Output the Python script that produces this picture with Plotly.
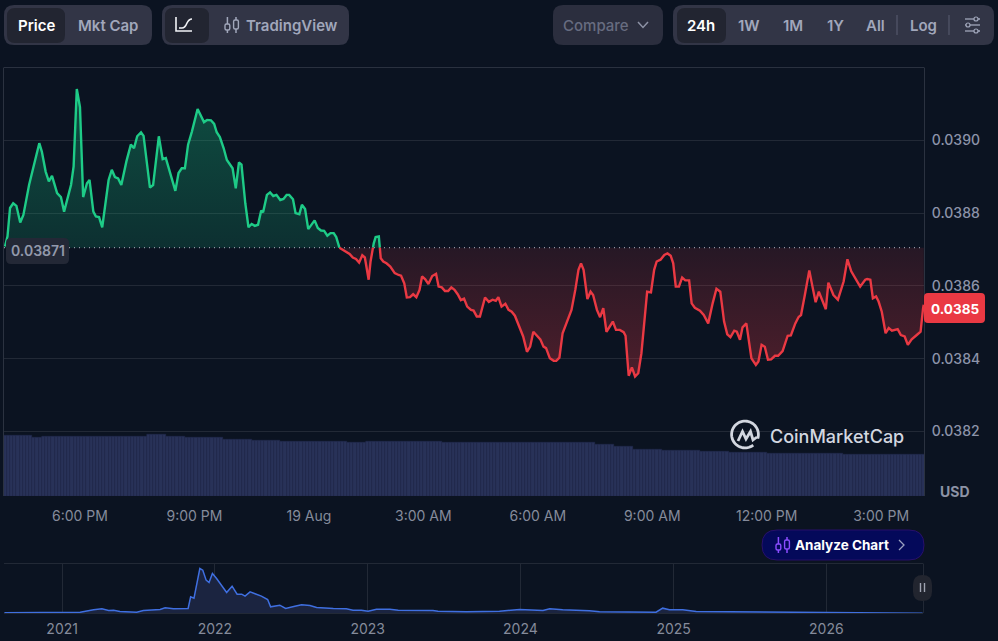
import numpy as np
import pandas as pd
import plotly.graph_objects as go

W, H = 998, 641
BG = "#0b1321"

# ---------- data ----------
minutes = [2,6,10,15,20,26,31,40,56,60,66,71,76,84,90,95,106,110,115,120,125,131,135,141,145,150,155,165,170,175,180,185,193,200,205,210,216,220,230,235,244,250,255,270,275,280,285,290,296,305,315,320,326,331,335,340,346,351,360,365,370,374,380,385,390,395,400,405,408,414,419,424,429,435,440,445,449,455,459,465,469,474,479,489,494,499,504,509,514,519,523,528,
537,544,549,554,559,564,568,574,577,582,585,590,593,597,602,608,615,621,625,630,634,639,644,649,654,658,663,668,674,680,684,689,694,699,704,709,714,719,724,729,735,739,744,749,757,763,769,774,778,783,789,794,799,804,809,817,823,828,833,838,844,849,853,859,865,869,874,879,886,893,899,904,908,912,918,923,927,933,938,943,948,958,963,969,975,978,983,988,993,998,1003,1009,
1012,1018,1023,1027,1033,1039,1044,1049,1053,1057,1062,1067,1072,1078,1082,1087,1095,1101,1108,1115,1121,1127,1133,1138,1143,1149,1153,1158,1162,1168,1176,1183,1187,1192,1197,1202,1207,1213,1218,1225,1233,1238,1245,1250,1254,1260,1267,1272,1277,1282,1293,1297,1305,1312,1321,1327,1333,1347,1355,1358,1363,1367,1372,1376,1381,1387,1392,1397,1406,1411,1417,1422,1428,1436,1442,1446,1447]
prices = [0.038708,0.038736,0.038814,0.038827,0.038820,0.038774,0.038795,0.038878,0.038992,0.038969,0.038914,0.038887,0.038902,0.038855,0.038844,0.038804,0.038878,0.038928,0.039141,0.039091,0.038844,0.038882,0.038891,0.038804,0.038791,0.038789,0.038761,0.038891,0.038919,0.038899,0.038895,0.038877,0.038942,0.038988,0.038978,0.039011,0.039022,0.039012,0.038870,0.038877,0.039011,0.038948,0.038951,0.038861,0.038910,0.038923,0.038923,0.038988,0.039024,0.039086,0.039050,0.039056,0.039055,0.039045,0.039022,0.039009,0.038978,0.038946,0.038923,0.038868,0.038939,0.038933,0.038827,0.038761,0.038770,0.038765,0.038768,0.038807,0.038802,0.038850,0.038857,0.038847,0.038850,0.038836,0.038839,0.038850,0.038850,0.038838,0.038800,0.038797,0.038823,0.038811,0.038756,0.038780,0.038759,0.038752,0.038751,0.038738,0.038745,0.038745,0.038734,0.038705,
0.038696,0.038688,0.038678,0.038674,0.038664,0.038684,0.038678,0.038617,0.038667,0.038717,0.038734,0.038736,0.038676,0.038667,0.038662,0.038653,0.038635,0.038630,0.038628,0.038607,0.038568,0.038569,0.038577,0.038569,0.038589,0.038626,0.038618,0.038605,0.038627,0.038633,0.038598,0.038596,0.038586,0.038586,0.038596,0.038589,0.038577,0.038561,0.038565,0.038543,0.038534,0.038532,0.038516,0.038516,0.038568,0.038556,0.038562,0.038559,0.038569,0.038543,0.038551,0.038534,0.038529,0.038518,0.038497,0.038461,0.038419,0.038433,0.038474,0.038465,0.038453,0.038433,0.038429,0.038401,0.038394,0.038394,0.038403,0.038470,0.038502,0.038534,0.038589,0.038644,0.038662,0.038644,0.038564,0.038584,0.038575,0.038534,0.038514,0.038539,0.038474,0.038502,0.038479,0.038479,0.038473,0.038463,0.038353,0.038376,0.038351,0.038360,0.038415,0.038525,
0.038584,0.038582,0.038644,0.038667,0.038672,0.038685,0.038689,0.038683,0.038662,0.038598,0.038598,0.038623,0.038615,0.038615,0.038552,0.038540,0.038532,0.038520,0.038497,0.038552,0.038592,0.038584,0.038502,0.038467,0.038459,0.038477,0.038474,0.038452,0.038486,0.038497,0.038401,0.038383,0.038392,0.038438,0.038433,0.038397,0.038398,0.038408,0.038408,0.038421,0.038463,0.038464,0.038497,0.038514,0.038520,0.038575,0.038642,0.038598,0.038555,0.038584,0.038536,0.038609,0.038575,0.038562,0.038612,0.038673,0.038640,0.038598,0.038617,0.038619,0.038617,0.038566,0.038571,0.038557,0.038529,0.038470,0.038484,0.038477,0.038481,0.038465,0.038461,0.038438,0.038453,0.038465,0.038474,0.038539,0.038548]
base_price = 0.038705
base_label = "0.03871"
last_label = "0.0385"

volumes = [5.61,5.61,5.61,5.61,5.61,5.61,5.61,5.61,5.61,5.48,5.48,5.48,
5.55,5.55,5.55,5.55,5.55,5.55,5.53,5.53,5.53,5.55,5.55,5.55,5.55,5.55,5.55,
5.58,5.58,5.58,5.58,5.58,5.58,5.55,5.55,5.55,5.55,5.55,5.55,5.55,5.55,5.55,5.55,5.55,5.55,
5.70,5.70,5.70,5.70,5.70,5.70,5.58,5.58,5.58,5.58,5.58,5.58,
5.45,5.45,5.45,5.45,5.45,5.45,5.45,5.45,5.45,5.45,5.45,5.45,
5.30,5.30,5.30,5.30,5.30,5.30,5.30,5.30,5.30,5.17,5.17,5.17,5.17,5.17,5.17,5.17,5.17,5.17,
5.08,5.08,5.08,5.08,5.08,5.08,5.08,5.08,5.08,5.08,5.08,5.08,5.08,5.08,5.08,5.08,5.08,5.08,5.08,5.08,5.08,
5.04,5.04,5.04,5.04,5.04,5.04,
5.08,5.08,5.08,5.08,5.08,5.08,5.08,5.08,5.08,5.08,5.08,5.08,5.08,5.08,5.08,5.08,5.08,5.08,5.08,5.08,5.08,5.08,5.08,5.08,
4.95,4.95,4.95,4.95,4.95,4.95,4.95,4.95,4.95,4.95,4.95,4.95,4.95,4.95,4.95,4.95,4.95,4.95,4.95,4.95,4.95,4.95,4.95,4.95,
4.95,4.95,4.95,4.95,4.95,4.95,4.95,4.95,4.95,4.95,4.95,4.95,4.95,4.95,4.95,4.95,4.95,4.95,4.95,4.95,4.95,4.95,4.95,4.95,
4.77,4.77,4.77,4.77,4.77,4.77,4.61,4.61,4.61,4.61,4.61,4.61,
4.36,4.36,4.36,4.36,4.36,4.36,4.36,4.36,4.36,
4.24,4.24,4.24,4.24,4.24,4.24,4.24,4.24,4.24,4.24,4.24,4.24,
4.14,4.14,4.14,4.14,4.14,4.14,4.14,4.14,4.14,
4.02,4.02,4.02,4.02,4.02,4.02,4.02,4.02,4.02,4.02,4.02,4.02,
3.93,3.93,3.93,3.93,3.93,3.93,3.93,3.93,3.93,3.93,3.93,3.93,3.93,3.93,3.93,3.93,3.93,3.93,3.93,3.93,3.93,3.93,3.93,3.93,
3.83,3.83,3.83,3.83,3.83,3.83,3.83,3.83,3.83,3.83,3.83,3.83,3.83,3.83,3.83,3.83,3.83,3.83,3.83,3.83,3.83,3.83,3.83,3.83,3.83,3.83,3.83]

mini_days = [-138,-5,43,75,95,111,123,138,178,194,234,246,266,301,307,315,321,329,336,344,351,359,369,381,393,406,418,429,437,449,465,476,491,498,520,534,556,572,592,608,648,679,695,715,731,751,783,803,886,898,966,1045,1093,1149,1165,1196,1260,1284,1419,1435,1451,1483,1515,1682,1761,1841,2056]
mini_vals = [.08,.08,.16,.44,.56,.36,.40,.24,.16,.36,.48,.68,.56,.60,2.0,1.84,3.2,5.4,5.2,4.0,3.72,4.8,4.2,3.4,2.52,3.28,2.32,2.32,2.08,2.6,2.32,2.08,1.68,.8,1.0,.6,.88,1.04,.96,.72,.6,.56,.4,.4,.28,.52,.52,.4,.36,.28,.2,.28,.48,.36,.56,.44,.32,.2,.16,.64,.44,.44,.24,.2,.12,.08,.04]

time_labels = ["6:00 PM","9:00 PM","19 Aug","3:00 AM","6:00 AM","9:00 AM","12:00 PM","3:00 PM"]
price_ticks = [0.0382,0.0384,0.0386,0.0388,0.0390]
year_ticks = ["2021","2022","2023","2024","2025","2026"]

# ---------- derived ----------
start = pd.Timestamp("2026-08-18 16:00")
def T(m):
    return start + pd.to_timedelta(np.asarray(m, dtype=float), unit="min")

m = np.array(minutes, float)
p = np.array(prices, float)
xs, ys = [m[0]], [p[0]]
for i in range(len(m) - 1):
    a, b = p[i] - base_price, p[i + 1] - base_price
    if a * b < 0:
        t = a / (a - b)
        xs.append(m[i] + t * (m[i + 1] - m[i]))
        ys.append(base_price)
    xs.append(m[i + 1])
    ys.append(p[i + 1])
xs, ys = np.array(xs), np.array(ys)
x_lo, x_hi = 0.5, 1447.4

GREEN, RED = "#1ecb87", "#ea3943"
green_line = np.where(ys >= base_price, ys, np.nan)
red_line = np.where(ys <= base_price, ys, np.nan)
fx = np.concatenate([[xs[0]], xs, [xs[-1]]])
gf = np.concatenate([[base_price], np.maximum(ys, base_price), [base_price]])
rf = np.concatenate([[base_price], np.minimum(ys, base_price), [base_price]])

# ---------- figure ----------
fig = go.Figure()
vol_t = T(np.arange(len(volumes)) * 5 + 2.5)
fig.add_trace(go.Bar(x=vol_t, y=volumes, xaxis="x", yaxis="y2", width=5 * 60000,
                     marker=dict(color="#283258", line=dict(color="#222b4c", width=0.5)), showlegend=False))
fig.add_trace(go.Scatter(x=T(fx), y=gf, xaxis="x", yaxis="y", mode="none", fill="toself", showlegend=False,
                         fillgradient=dict(type="vertical", start=base_price, stop=0.03914,
                                           colorscale=[[0, "rgba(22,199,132,0.16)"], [1, "rgba(22,199,132,0.33)"]])))
fig.add_trace(go.Scatter(x=T(fx), y=rf, xaxis="x", yaxis="y", mode="none", fill="toself", showlegend=False,
                         fillgradient=dict(type="vertical", start=base_price, stop=0.03835,
                                           colorscale=[[0, "rgba(234,57,67,0.12)"], [1, "rgba(234,57,67,0.30)"]])))
fig.add_trace(go.Scatter(x=T([x_lo, x_hi]), y=[base_price, base_price], xaxis="x", yaxis="y", mode="lines",
                         line=dict(color="#8f95a5", width=1.3, dash="1px 4px"), showlegend=False))
fig.add_trace(go.Scatter(x=T(xs), y=green_line, xaxis="x", yaxis="y", mode="lines", connectgaps=False,
                         line=dict(color=GREEN, width=2.4), showlegend=False))
fig.add_trace(go.Scatter(x=T(xs), y=red_line, xaxis="x", yaxis="y", mode="lines", connectgaps=False,
                         line=dict(color=RED, width=2.4), showlegend=False))
mini_t = pd.Timestamp("2021-01-01") + pd.to_timedelta(mini_days, unit="D")
fig.add_trace(go.Scatter(x=mini_t, y=mini_vals, xaxis="x2", yaxis="y3", mode="lines", fill="tozeroy",
                         fillcolor="#1b2440", line=dict(color="#3f6fe0", width=1.5), showlegend=False))

# ---------- chrome helpers ----------
def P(x, y):
    return f"{x / W:.5f},{1 - y / H:.5f}"

def rrect(x0, y0, x1, y1, r):
    return (f"M{P(x0 + r, y0)} L{P(x1 - r, y0)} Q{P(x1, y0)} {P(x1, y0 + r)} L{P(x1, y1 - r)} Q{P(x1, y1)} {P(x1 - r, y1)} "
            f"L{P(x0 + r, y1)} Q{P(x0, y1)} {P(x0, y1 - r)} L{P(x0, y0 + r)} Q{P(x0, y0)} {P(x0 + r, y0)} Z")

def poly(pts):
    return "M" + " L".join(P(a, b) for a, b in pts)

shapes = []
def box(x0, y0, x1, y1, r, fill, line=None, lw=0):
    shapes.append(dict(type="path", xref="paper", yref="paper", path=rrect(x0, y0, x1, y1, r), fillcolor=fill,
                       line=dict(color=line or fill, width=lw), layer="above"))
def stroke(pts, color, width=1.5):
    shapes.append(dict(type="path", xref="paper", yref="paper", path=poly(pts),
                       line=dict(color=color, width=width), layer="above"))
def candles(cx, cy, color):
    for dx, hi, lo, top, bot in ((-4.6, -8, 8, -1, 5), (4.0, -8, 8, -5, 4)):
        stroke([(cx + dx, cy + hi), (cx + dx, cy + top)], color)
        stroke([(cx + dx, cy + bot), (cx + dx, cy + lo)], color)
        box(cx + dx - 2.4, cy + top, cx + dx + 2.4, cy + bot, 1.5, "rgba(0,0,0,0)", color, 1.4)

annots = []
def text(x, y, s, color, size=15, weight=600, anchor="center"):
    annots.append(dict(x=x / W, y=1 - y / H, xref="paper", yref="paper", text=s, showarrow=False, xanchor=anchor,
                       yanchor="middle", font=dict(family="Inter", size=size, color=color, weight=weight)))

BTN, ACT, GR = "#323546", "#222531", "#a1a7bb"
box(4, 5, 152, 45, 10, BTN)
box(7, 8, 65, 43, 8, ACT)
text(36, 25, "Price", "#ffffff")
text(108, 25, "Mkt Cap", GR)
box(162, 5, 349, 45, 10, BTN)
box(165, 8, 209, 43, 8, ACT)
stroke([(176, 17), (176, 31), (192, 31)], "#f2f3f7", 1.6)
shapes.append(dict(type="path", xref="paper", yref="paper", path=f"M{P(179, 28)} L{P(182, 28)} Q{P(185, 28)} {P(187, 23)} Q{P(189, 19)} {P(192, 19)}",
                   line=dict(color="#f2f3f7", width=1.6), layer="above"))
candles(232, 25, GR)
text(292, 25, "TradingView", GR)
box(553, 5, 663, 45, 10, "#2b2e3e")
text(595.5, 25, "Compare", "#676c80", weight=500)
stroke([(638, 22), (643, 27.5), (648, 22)], "#8d92a5", 1.5)
box(673, 5, 994, 45, 10, BTN)
box(677, 8, 726, 43, 8, ACT)
text(701, 25, "24h", "#ffffff")
for xx, s in ((749, "1W"), (793, "1M"), (835, "1Y"), (875.5, "All"), (923, "Log")):
    text(xx, 25, s, GR)
for xx in (897, 949):
    stroke([(xx, 15), (xx, 35)], "#5b5f72", 1)
for yy, kx in ((19, 976), (25, 968), (31, 976)):
    stroke([(965, yy), (kx - 2, yy)], GR, 1.3)
    stroke([(kx + 2, yy), (980, yy)], GR, 1.3)
    box(kx - 2, yy - 2, kx + 2, yy + 2, 2, "rgba(0,0,0,0)", GR, 1.2)

# plot frame lines
stroke([(3.5, 67.5), (924.5, 67.5)], "#2b3240", 1)
stroke([(4, 563.5), (923, 563.5)], "#222936", 1)
stroke([(923.5, 563.5), (923.5, 613)], "#222936", 1)
stroke([(4, 613.5), (923, 613.5)], "#222936", 1)

# price labels
box(6, 238, 69, 264, 5, "#232836")
text(37.5, 251, base_label, "#9299ab", size=14, weight=600)
box(924, 293, 985, 323, 4, RED)
text(955, 309, last_label, "#ffffff", size=13.5, weight=700)
text(955, 491, "USD", "#8d93a6", size=14, weight=700)

# logo
ang = np.radians(np.linspace(52, 378, 50))
stroke([(745 + 13.4 * np.cos(a), 434.5 + 13.4 * np.sin(a)) for a in ang], "#d3d7e0", 2.8)
stroke([(738, 441), (742.5, 431.5), (746, 439), (750.5, 431.5), (753, 440), (757, 437)], "#d3d7e0", 2.8)
text(768, 436, "CoinMarketCap", "#d3d7e0", size=18, weight=500, anchor="left")

# analyze pill
box(762, 530, 924, 560, 15, "#04095a", "#28106a", 1)
candles(783, 545, "#8b4dff")
text(842, 545, "Analyze Chart", "#ffffff", size=13.5, weight=700)
stroke([(899, 540), (904, 545), (899, 550)], "#9aa0c0", 1.3)

# handle
box(913, 575, 932, 601, 9.5, "#22252f")
stroke([(920.5, 583), (920.5, 592)], "#9fa3b0", 1.4)
stroke([(924.5, 583), (924.5, 592)], "#9fa3b0", 1.4)

fig.update_layout(
    width=W, height=H, autosize=False, margin=dict(l=0, r=0, t=0, b=0),
    paper_bgcolor=BG, plot_bgcolor=BG, showlegend=False, bargap=0, barmode="overlay",
    font=dict(family="Inter", color="#8a90a1", size=14),
    shapes=shapes, annotations=annots,
    xaxis=dict(domain=[4 / W, 924 / W], anchor="y2", range=[T(x_lo), T(x_hi)], type="date", showgrid=False, zeroline=False,
               tickmode="array", tickvals=[start + pd.Timedelta(hours=h) for h in (2, 5, 8, 11, 14, 17, 20, 23)],
               ticktext=time_labels, ticks="outside", ticklen=7, tickcolor="rgba(0,0,0,0)",
               tickfont=dict(family="Inter", size=14, color="#858b9b"), showline=False),
    yaxis=dict(domain=[1 - 496 / H, 1 - 67.5 / H], range=[0.0380227, 0.0392], overlaying="y2", side="right", anchor="x",
               tickmode="array", tickvals=price_ticks, ticktext=[f"{v:.4f}" for v in price_ticks],
               gridcolor="#222936", gridwidth=1, zeroline=False, ticks="outside", ticklen=4, tickcolor="rgba(0,0,0,0)",
               tickfont=dict(family="Inter", size=14, color="#8d94aa", weight=500), showline=True, linecolor="#2b3240", mirror=True),
    yaxis2=dict(domain=[1 - 496 / H, 1 - 67.5 / H], range=[0, 40], visible=False, anchor="x"),
    xaxis2=dict(domain=[4 / W, 923 / W], anchor="y3", range=["2020-08-15", "2026-08-20"], type="date",
                tickmode="array", tickvals=[f"{y}-01-01" for y in year_ticks], ticktext=year_ticks,
                showgrid=True, gridcolor="#222936", zeroline=False, ticks="outside", ticklen=3, tickcolor="rgba(0,0,0,0)",
                tickfont=dict(family="Inter", size=14, color="#858b9b")),
    yaxis3=dict(domain=[1 - 613.5 / H, 1 - 563.5 / H], range=[0, 6], visible=False, anchor="x2"),
)

fig.write_html("out.html", config=dict(displayModeBar=False),
               post_script="document.body.style.margin='0';document.body.style.background='#0b1321';document.body.style.overflow='hidden';")
